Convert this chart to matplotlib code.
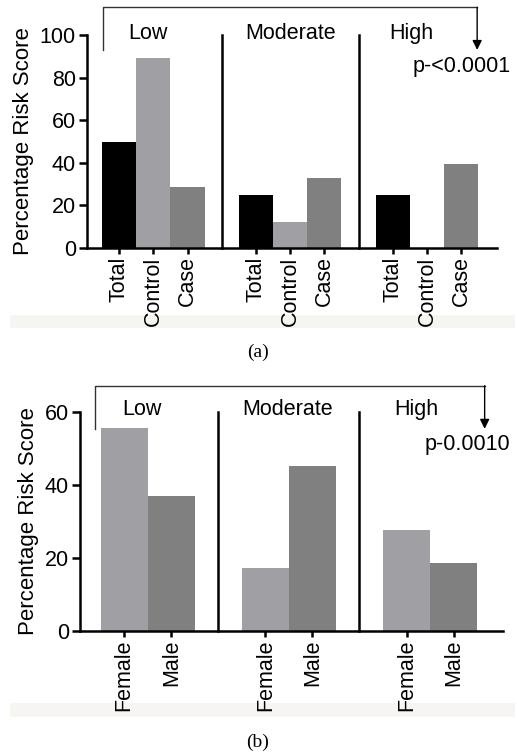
import matplotlib.pyplot as plt
from matplotlib.patches import Rectangle

plt.rcParams['font.family'] = ['Liberation Sans', 'DejaVu Sans']

groups = ['Low', 'Moderate', 'High']

# panel (a)
a_labels = ['Total', 'Control', 'Case']
a_total = [50, 25, 25]
a_control = [89, 12, 0]
a_case = [28.5, 33, 39.5]
a_pvalue = 'p-<0.0001'

# panel (b)
b_labels = ['Female', 'Male']
b_female = [55.5, 17.2, 27.7]
b_male = [37, 45.1, 18.6]
b_pvalue = 'p-0.0010'

light = '#a0a0a4'
dark = '#808080'
fs = 15.5

fig = plt.figure(figsize=(5.17, 7.56), dpi=100)

# faint strips behind the tick labels (scan artefact)
for y0, h in [(1 - 328 / 756, 13 / 756), (1 - 717 / 756, 14 / 756)]:
    fig.patches.append(Rectangle((10 / 517, y0), 505 / 517, h, transform=fig.transFigure,
                                 facecolor='#f7f5f2', edgecolor='none', zorder=-5))


def panel(ax, series, colors, labels, ymax, yticks, label_pos, label_y, bracket, pvalue, p_xy):
    n = len(series)
    stride = n + 1
    ticks, ticklabels = [], []
    for g in range(len(groups)):
        for i, (vals, c) in enumerate(zip(series, colors)):
            x = g * stride + i
            ax.bar(x, vals[g], width=1.0, color=c, edgecolor='none', zorder=2)
            ticks.append(x)
            ticklabels.append(labels[i])
        if g > 0:
            ax.plot([g * stride - 1, g * stride - 1], [0, ymax], color='black', lw=1.8,
                    clip_on=False, zorder=3)
        ax.text(label_pos[g], label_y, groups[g], ha='center', va='center', fontsize=fs)
    ax.set_xlim(-0.94, len(groups) * stride - 0.95)
    ax.set_ylim(0, ymax)
    ax.set_yticks(yticks)
    ax.set_xticks(ticks)
    ax.set_xticklabels(ticklabels, rotation=90)
    ax.tick_params(axis='y', labelsize=fs, width=1.8, length=6, direction='out', pad=2)
    ax.tick_params(axis='x', labelsize=fs, width=1.8, length=4, direction='out', pad=2)
    ax.spines['top'].set_visible(False)
    ax.spines['right'].set_visible(False)
    ax.spines['left'].set_linewidth(1.8)
    ax.spines['bottom'].set_linewidth(1.8)
    ax.set_ylabel('Percentage Risk Score', fontsize=16, labelpad=4)
    x0, x1, ytop, ylo = bracket
    ax.plot([x0, x0, x1], [ylo, ytop, ytop], color='#333333', lw=1.0, clip_on=False)
    ax.annotate('', xy=(x1, ylo), xytext=(x1, ytop), annotation_clip=False,
                arrowprops=dict(arrowstyle='-|>', color='black', lw=1.0, mutation_scale=14,
                                shrinkA=0, shrinkB=0))
    ax.text(p_xy[0], p_xy[1], pvalue, ha='right', va='center', fontsize=fs, clip_on=False)


ax1 = fig.add_axes([87 / 517, 1 - 248 / 756, 410 / 517, 213 / 756])
panel(ax1, [a_total, a_control, a_case], ['black', light, dark], a_labels,
      100, [0, 20, 40, 60, 80, 100], [0.85, 5.0, 8.55], 100.5,
      (-0.47, 10.47, 113, 93), a_pvalue, (11.45, 85))

ax2 = fig.add_axes([80 / 517, 1 - 631 / 756, 423 / 517, 219 / 756])
panel(ax2, [b_female, b_male], [light, dark], b_labels,
      60, [0, 20, 40, 60], [0.38, 3.47, 6.2], 60.6,
      (-0.62, 7.66, 67.2, 55.4), b_pvalue, (8.2, 51))

fig.text(258 / 517, 1 - 352 / 756, '(a)', ha='center', va='center', fontsize=14,
         family='Liberation Serif')
fig.text(258 / 517, 1 - 742 / 756, '(b)', ha='center', va='center', fontsize=14,
         family='Liberation Serif')

fig.savefig('out.png', dpi=100)
